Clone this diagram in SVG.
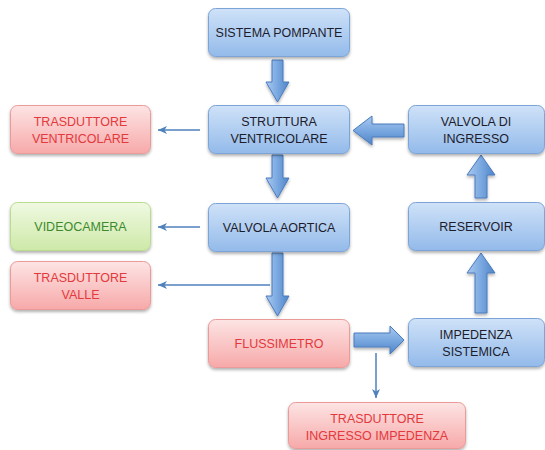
<svg xmlns="http://www.w3.org/2000/svg" width="545" height="450" viewBox="0 0 545 450">
<defs>
<linearGradient id="gB" x1="0" y1="0" x2="0" y2="1"><stop offset="0" stop-color="#cfe2f8"/><stop offset="1" stop-color="#93baea"/></linearGradient>
<linearGradient id="gR" x1="0" y1="0" x2="0" y2="1"><stop offset="0" stop-color="#fde4e4"/><stop offset="1" stop-color="#f7a9a9"/></linearGradient>
<linearGradient id="gGr" x1="0" y1="0" x2="0" y2="1"><stop offset="0" stop-color="#f0f9e2"/><stop offset="1" stop-color="#cde9a8"/></linearGradient>
<linearGradient id="gAv" x1="0" y1="0" x2="1" y2="0"><stop offset="0" stop-color="#a9c9ef"/><stop offset="0.5" stop-color="#7aa8e0"/><stop offset="1" stop-color="#4f84c8"/></linearGradient>
<linearGradient id="gAh" x1="0" y1="0" x2="0" y2="1"><stop offset="0" stop-color="#a9c9ef"/><stop offset="0.5" stop-color="#7aa8e0"/><stop offset="1" stop-color="#4f84c8"/></linearGradient>
<filter id="sh" x="-10%" y="-10%" width="130%" height="140%"><feDropShadow dx="0" dy="2" stdDeviation="1.5" flood-color="#000" flood-opacity="0.3"/></filter>
<marker id="ah" markerWidth="10" markerHeight="8" refX="9" refY="4" orient="auto" markerUnits="userSpaceOnUse"><path d="M0,0 L9,4 L0,8 L2.5,4 Z" fill="#4f81bd"/></marker>
<style>
.b{fill:url(#gB);stroke:#7ba4d6;stroke-width:1;filter:url(#sh)}
.r{fill:url(#gR);stroke:#eb9a9a;stroke-width:1;filter:url(#sh)}
.g{fill:url(#gGr);stroke:#b9dc8e;stroke-width:1;filter:url(#sh)}
text{font-family:"Liberation Sans",Arial,sans-serif;font-size:12.5px;text-anchor:middle}
.tb{fill:#1c1c2c}
.tr{fill:#e3393c}
.tg{fill:#3d8a2e}
.fa{stroke:#4a7bbd;stroke-width:1;filter:url(#sh)}
.th{stroke:#4f81bd;stroke-width:1.5;fill:none;marker-end:url(#ah)}
</style>
</defs>
<g id="connectors">
<path class="fa" fill="url(#gAv)" d="M272,60 H283 V82 H289 L277.5,102 L266,82 H272 Z"/>
<path class="fa" fill="url(#gAv)" d="M272,155 H283 V178 H289 L277.5,198 L266,178 H272 Z"/>
<path class="fa" fill="url(#gAv)" d="M272,253 H283 V296 H289 L277.5,316 L266,296 H272 Z"/>
<path class="fa" fill="url(#gAh)" d="M354,333 H390 V326 L404,340 L390,354 V347 H354 Z"/>
<path class="fa" fill="url(#gAv)" d="M475,313 V273 H467 L481,253 L495,273 H487 V313 Z"/>
<path class="fa" fill="url(#gAv)" d="M475,198 V175 H467 L481,155 L495,175 H487 V198 Z"/>
<path class="fa" fill="url(#gAh)" d="M404,124 V137 H372 V145 L353,130.5 L372,116 V124 Z"/>
<line class="th" x1="200" y1="130" x2="158" y2="130"/>
<line class="th" x1="200" y1="227" x2="158" y2="227"/>
<line class="th" x1="270" y1="285" x2="158" y2="285"/>
<line class="th" x1="376" y1="353" x2="376" y2="398"/>
</g>
<g id="sistema-pompante"><rect class="b" x="208.5" y="8.5" width="141" height="48" rx="7"/><text class="tb" x="279" y="37">SISTEMA POMPANTE</text></g>
<g id="struttura-ventricolare"><rect class="b" x="208.5" y="105.5" width="141" height="48" rx="7"/><text class="tb" x="279" y="126">STRUTTURA</text><text class="tb" x="279" y="143">VENTRICOLARE</text></g>
<g id="valvola-aortica"><rect class="b" x="208.5" y="203.5" width="141" height="48" rx="7"/><text class="tb" x="279" y="232">VALVOLA AORTICA</text></g>
<g id="flussimetro"><rect class="r" x="208.5" y="319.5" width="141" height="48" rx="7"/><text class="tr" x="279" y="348">FLUSSIMETRO</text></g>
<g id="trasduttore-ventricolare"><rect class="r" x="10.5" y="105.5" width="140" height="48" rx="7"/><text class="tr" x="80.5" y="126">TRASDUTTORE</text><text class="tr" x="80.5" y="143">VENTRICOLARE</text></g>
<g id="videocamera"><rect class="g" x="10.5" y="202.5" width="140" height="48" rx="7"/><text class="tg" x="80.5" y="231">VIDEOCAMERA</text></g>
<g id="trasduttore-valle"><rect class="r" x="10.5" y="261.5" width="140" height="48" rx="7"/><text class="tr" x="80.5" y="282">TRASDUTTORE</text><text class="tr" x="80.5" y="299">VALLE</text></g>
<g id="valvola-di-ingresso"><rect class="b" x="408.5" y="105.5" width="136" height="48" rx="7"/><text class="tb" x="476" y="126">VALVOLA DI</text><text class="tb" x="476" y="143">INGRESSO</text></g>
<g id="reservoir"><rect class="b" x="408.5" y="202.5" width="136" height="48" rx="7"/><text class="tb" x="476" y="231">RESERVOIR</text></g>
<g id="impedenza-sistemica"><rect class="b" x="408.5" y="318.5" width="136" height="48" rx="7"/><text class="tb" x="476" y="339">IMPEDENZA</text><text class="tb" x="476" y="356">SISTEMICA</text></g>
<g id="trasduttore-ingresso-impedenza"><rect class="r" x="288.5" y="402.5" width="177" height="46" rx="7"/><text class="tr" x="377" y="423">TRASDUTTORE</text><text class="tr" x="377" y="440">INGRESSO IMPEDENZA</text></g>
</svg>
